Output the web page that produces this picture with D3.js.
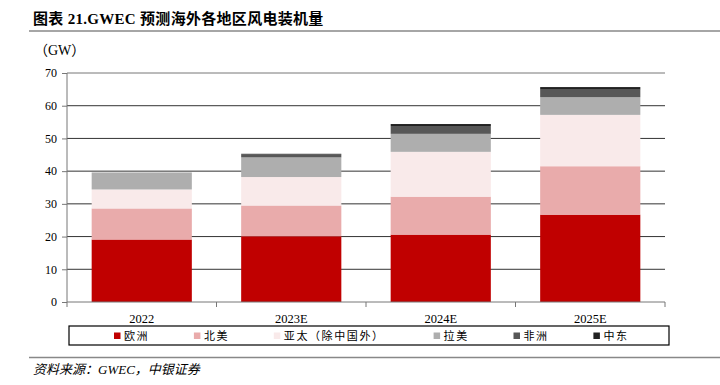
<!DOCTYPE html>
<html>
<head>
<meta charset="utf-8">
<script src="https://cdn.jsdelivr.net/npm/d3@7"></script>
<style>
  body { margin: 0; background: #fff; }
  svg { display: block; }
</style>
</head>
<body>
<svg width="720" height="385"></svg>
<script>
// categories and series (GW)
var years = ["2022", "2023E", "2024E", "2025E"];
var europe = [19.1, 20.1, 20.6, 26.7];
var northAmerica = [9.5, 9.4, 11.6, 14.8];
var asiaPacific = [5.8, 8.7, 13.7, 15.7];
var latinAmerica = [5.2, 6.0, 5.5, 5.4];
var africa = [0.0, 1.0, 2.4, 2.3];
var middleEast = [0.0, 0.1, 0.6, 0.8];
var seriesNames = ["欧洲", "北美", "亚太（除中国外）", "拉美", "非洲", "中东"];
var yTicks = [0, 10, 20, 30, 40, 50, 60, 70];

var colors = ["#c00000", "#e9abab", "#f9eaea", "#aeaeae", "#575757", "#222222"];
var serif = "'Times New Roman', 'Liberation Serif', 'DejaVu Serif', serif";
var cjk = "'Liberation Serif', 'Noto Sans CJK SC', serif";

var svg = d3.select("svg");

// build rows for the stack
var keys = ["europe", "northAmerica", "asiaPacific", "latinAmerica", "africa", "middleEast"];
var cols = [europe, northAmerica, asiaPacific, latinAmerica, africa, middleEast];
var rows = years.map(function(y, i) {
  var r = {year: y};
  keys.forEach(function(k, j) { r[k] = cols[j][i]; });
  return r;
});
var stacked = d3.stack().keys(keys)(rows);

var margin = {left: 67, right: 665, top: 73, bottom: 302};
var x = d3.scaleBand().domain(years).range([margin.left, margin.right])
    .paddingInner(0.33).paddingOuter(0.165);
var y = d3.scaleLinear().domain([0, 70]).range([margin.bottom, margin.top]);

// title
svg.append("text")
    .attr("x", 33).attr("y", 24)
    .style("font-family", cjk).style("font-weight", "bold").style("font-size", "15px")
    .style("letter-spacing", "0.3px")
    .text("图表 21.GWEC 预测海外各地区风电装机量");
svg.append("line")
    .attr("x1", 29).attr("x2", 720).attr("y1", 31).attr("y2", 31)
    .attr("stroke", "#888").attr("stroke-width", 1.3);

// unit
svg.append("text")
    .attr("x", 34).attr("y", 55)
    .style("font-family", cjk).style("font-size", "14px")
    .text("（GW）");

// gridlines
svg.append("g").selectAll("line")
    .data(yTicks.filter(function(d) { return d > 0; }))
    .join("line")
    .attr("x1", margin.left).attr("x2", margin.right)
    .attr("y1", function(d) { return y(d); }).attr("y2", function(d) { return y(d); })
    .attr("stroke", function(d) { return d === 70 ? "#777" : "#333"; })
    .attr("stroke-width", 1);

// bars
svg.append("g").selectAll("g")
    .data(stacked)
    .join("g")
    .attr("fill", function(d, i) { return colors[i]; })
    .selectAll("rect")
    .data(function(d) { return d; })
    .join("rect")
    .attr("x", function(d) { return x(d.data.year); })
    .attr("width", x.bandwidth())
    .attr("y", function(d) { return y(d[1]); })
    .attr("height", function(d) { return y(d[0]) - y(d[1]); });

// y axis
var yAxis = svg.append("g")
    .attr("transform", "translate(" + margin.left + ",0)")
    .call(d3.axisLeft(y).tickValues(yTicks).tickSize(5).tickPadding(5));
yAxis.select(".domain").attr("stroke", "#777").attr("d", "M0," + y(70) + "V" + y(0));
yAxis.selectAll(".tick line").attr("stroke", "#777");
yAxis.selectAll("text").style("font-family", serif).style("font-size", "12px").attr("fill", "#000");

// x axis with ticks at band boundaries
var xAxisG = svg.append("g");
xAxisG.append("line")
    .attr("x1", margin.left).attr("x2", margin.right)
    .attr("y1", y(0)).attr("y2", y(0))
    .attr("stroke", "#777");
var bounds = years.map(function(d) { return x(d) - x.step() * x.paddingInner() / 2; });
bounds[0] = margin.left;
bounds.push(margin.right);
xAxisG.selectAll(".xt").data(bounds).join("line")
    .attr("x1", function(d) { return d; }).attr("x2", function(d) { return d; })
    .attr("y1", y(0)).attr("y2", y(0) + 5)
    .attr("stroke", "#777");
xAxisG.selectAll("text").data(years).join("text")
    .attr("x", function(d) { return x(d) + x.bandwidth() / 2; })
    .attr("y", y(0) + 21)
    .attr("text-anchor", "middle")
    .style("font-family", serif).style("font-size", "12.5px")
    .text(function(d) { return d; });

// legend
svg.append("rect")
    .attr("x", 69).attr("y", 326).attr("width", 600).attr("height", 19)
    .attr("fill", "none").attr("stroke", "#000").attr("stroke-width", 1.2);
var slots = [0, 1, 2, 4, 5, 6];
var leg = svg.append("g").selectAll("g")
    .data(seriesNames)
    .join("g")
    .attr("transform", function(d, i) { return "translate(" + (114 + slots[i] * 79.9) + ",336)"; });
leg.append("rect")
    .attr("x", 0).attr("y", -3.5).attr("width", 6.5).attr("height", 6.5)
    .attr("fill", function(d, i) { return colors[i]; });
leg.append("text")
    .attr("x", 10).attr("y", 4)
    .style("font-family", cjk).style("font-size", "11px").style("letter-spacing", "1.6px")
    .text(function(d) { return d; });

// source
svg.append("line")
    .attr("x1", 29).attr("x2", 720).attr("y1", 357.5).attr("y2", 357.5)
    .attr("stroke", "#888").attr("stroke-width", 1.3);
svg.append("text")
    .attr("x", 33).attr("y", 374)
    .style("font-family", cjk).style("font-style", "italic").style("font-size", "13px")
    .text("资料来源：GWEC，中银证券");
</script>
</body>
</html>
